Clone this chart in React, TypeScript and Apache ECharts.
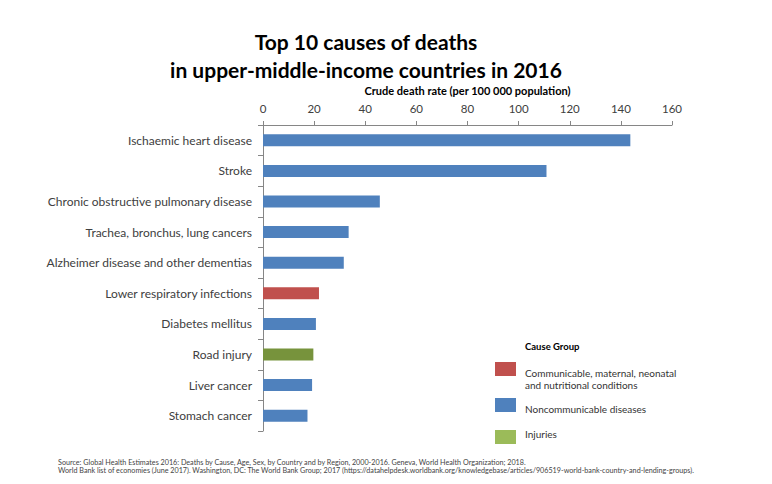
import React, { useEffect, useRef } from "react";
import * as echarts from "echarts";

const categories = [
  "Ischaemic heart disease",
  "Stroke",
  "Chronic obstructive pulmonary disease",
  "Trachea, bronchus, lung cancers",
  "Alzheimer disease and other dementias",
  "Lower respiratory infections",
  "Diabetes mellitus",
  "Road injury",
  "Liver cancer",
  "Stomach cancer",
];
const values = [143.7, 110.9, 45.7, 33.5, 31.6, 21.9, 20.7, 19.7, 19.2, 17.4];
const groups = ["ncd", "ncd", "ncd", "ncd", "ncd", "comm", "ncd", "inj", "ncd", "ncd"];
const xTicks = [0, 20, 40, 60, 80, 100, 120, 140, 160];

const legendItems = [
  { key: "comm", lines: ["Communicable, maternal, neonatal", "and nutritional conditions"] },
  { key: "ncd", lines: ["Noncommunicable diseases"] },
  { key: "inj", lines: ["Injuries"] },
];

const barColors: Record<string, string> = { ncd: "#4F81BD", comm: "#C0504D", inj: "#77933C" };
const legendColors: Record<string, string> = { ncd: "#4F81BD", comm: "#C0504D", inj: "#9BBB59" };

const FONT = "Lato, 'Open Sans', sans-serif";

export default function App() {
  const ref = useRef<HTMLDivElement>(null);
  useEffect(() => {
    if (!ref.current) return;
    const chart = echarts.init(ref.current, null, { renderer: "svg" });
    const swatchY = [362, 398, 430];
    const textY = [373, 409, 434];
    const legendGraphics: any[] = [];
    legendItems.forEach((it, i) => {
      legendGraphics.push({
        type: "rect",
        shape: { x: 495, y: swatchY[i], width: 21, height: 14 },
        style: { fill: legendColors[it.key] },
      });
      it.lines.forEach((ln, j) => {
        legendGraphics.push({
          type: "text",
          x: 525,
          y: textY[i] + j * 12,
          style: { text: ln, fill: "#333", font: `10px ${FONT}`, textVerticalAlign: "middle" },
        });
      });
    });
    chart.setOption({
      animation: false,
      backgroundColor: "#fff",
      title: {
        text: "Top 10 causes of deaths\nin upper-middle-income countries in 2016",
        left: 361,
        top: 22,
        textAlign: "center",
        textStyle: { fontFamily: FONT, fontWeight: "bold", fontSize: 21, color: "#000", lineHeight: 28 },
      },
      grid: { left: 263, right: 100, top: 125, bottom: 53, containLabel: false },
      xAxis: {
        type: "value",
        position: "top",
        min: 0,
        max: 160,
        interval: 20,
        name: "Crude death rate (per 100 000 population)",
        nameLocation: "middle",
        nameGap: 29,
        nameTextStyle: { fontFamily: FONT, fontWeight: "bold", fontSize: 11, color: "#000" },
        axisLine: { show: true, lineStyle: { color: "#868686" } },
        axisTick: { show: true, length: 4, lineStyle: { color: "#868686" } },
        axisLabel: {
          fontFamily: FONT,
          fontSize: 11.5,
          color: "#404040",
          margin: 11,
          formatter: (v: number) => (xTicks.includes(v) ? String(v) : ""),
        },
        splitLine: { show: false },
      },
      yAxis: {
        type: "category",
        data: categories,
        inverse: true,
        axisLine: { show: true, lineStyle: { color: "#868686" } },
        axisTick: { show: true, length: 5, lineStyle: { color: "#868686" } },
        axisLabel: { fontFamily: FONT, fontSize: 12, color: "#404040", margin: 11 },
      },
      series: [
        {
          type: "bar",
          barWidth: 12,
          data: values.map((v, i) => ({ value: v, itemStyle: { color: barColors[groups[i]] } })),
        },
      ],
      graphic: [
        {
          type: "text",
          x: 525,
          y: 346,
          style: { text: "Cause Group", fill: "#000", font: `bold 9.5px ${FONT}`, textVerticalAlign: "middle" },
        },
        ...legendGraphics,
        {
          type: "text",
          x: 58,
          y: 462,
          style: {
            text: "Source: Global Health Estimates 2016: Deaths by Cause, Age, Sex, by Country and by Region, 2000-2016. Geneva, World Health Organization; 2018.",
            fill: "#444",
            font: `7.2px ${FONT}`,
            textVerticalAlign: "middle",
          },
        },
        {
          type: "text",
          x: 58,
          y: 470,
          style: {
            text: "World Bank list of economies (June 2017). Washington, DC: The World Bank Group; 2017 (https://datahelpdesk.worldbank.org/knowledgebase/articles/906519-world-bank-country-and-lending-groups).",
            fill: "#444",
            font: `7.2px ${FONT}`,
            textVerticalAlign: "middle",
          },
        },
      ],
    });
    return () => chart.dispose();
  }, []);
  return <div ref={ref} style={{ width: 772, height: 484, margin: -8 }} />;
}
